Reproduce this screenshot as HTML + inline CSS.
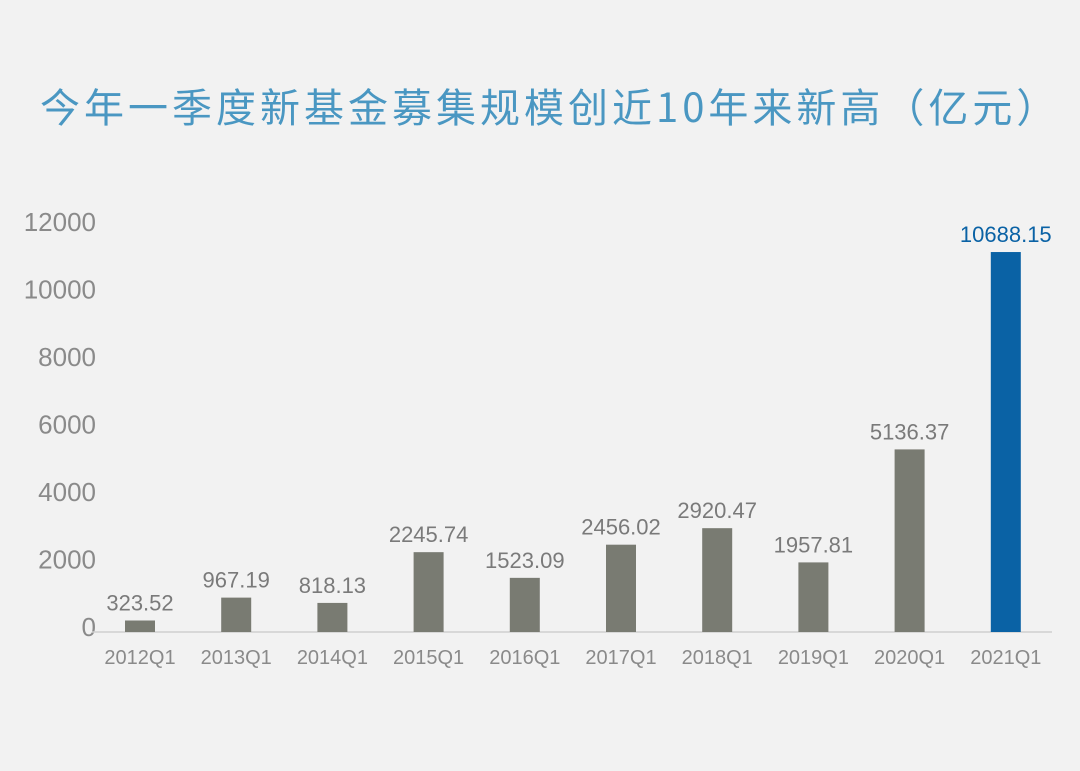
<!DOCTYPE html>
<html><head><meta charset="utf-8"><style>
body{margin:0;width:1080px;height:771px;background:#f2f2f2;overflow:hidden;font-family:"Liberation Sans","Noto Sans CJK SC",sans-serif;}
#title{position:absolute;left:40px;top:76px;font-size:40px;color:#4a97c2;white-space:nowrap;letter-spacing:4px;font-family:"Noto Sans CJK SC","Liberation Sans",sans-serif;}
svg{position:absolute;left:0;top:0}
</style></head><body>
<div id="title">今年一季度新基金募集规模创近10年来新高（亿元）</div>
<svg id="chart" width="1080" height="771"></svg>
<script>
const categories=["2012Q1","2013Q1","2014Q1","2015Q1","2016Q1","2017Q1","2018Q1","2019Q1","2020Q1","2021Q1"];
const values=[323.52,967.19,818.13,2245.74,1523.09,2456.02,2920.47,1957.81,5136.37,10688.15];
const valueLabels=["323.52","967.19","818.13","2245.74","1523.09","2456.02","2920.47","1957.81","5136.37","10688.15"];
const ticks=[0,2000,4000,6000,8000,10000,12000];
const NS="http://www.w3.org/2000/svg";
const svg=document.getElementById('chart');
const base=632;
function y(v){return base-v*0.03555;}
function tickY(v){return 627-v*0.03375;}
function x(i){return 140+i*96.2;}
function mk(t,a,txt){const e=document.createElementNS(NS,t);for(const k in a)e.setAttribute(k,a[k]);if(txt!==undefined)e.textContent=txt;svg.appendChild(e);return e;}
ticks.forEach(t=>{
 const e=mk('text',{x:96,y:tickY(t)+9,'text-anchor':'end','font-size':26,fill:'#8a8a8a'},t);
 
 
});
const ax=mk('line',{x1:92,x2:1052,y1:base,y2:base,stroke:'#d0d0d0','stroke-width':1.5});


values.forEach((v,i)=>{
 const last=i===values.length-1;
 const r=mk('rect',{x:x(i)-15,y:y(v),width:30,height:base-y(v),fill:last?'#0a62a5':'#797b72'});
 
 
 const l=mk('text',{x:x(i),y:y(v)-10,'text-anchor':'middle','font-size':22,fill:last?'#0a62a5':'#7a7a7a'},valueLabels[i]);
 
 
 const c=mk('text',{x:x(i),y:664,'text-anchor':'middle','font-size':20,fill:'#8a8a8a'},categories[i]);
 
 
});
</script>
</body></html>
